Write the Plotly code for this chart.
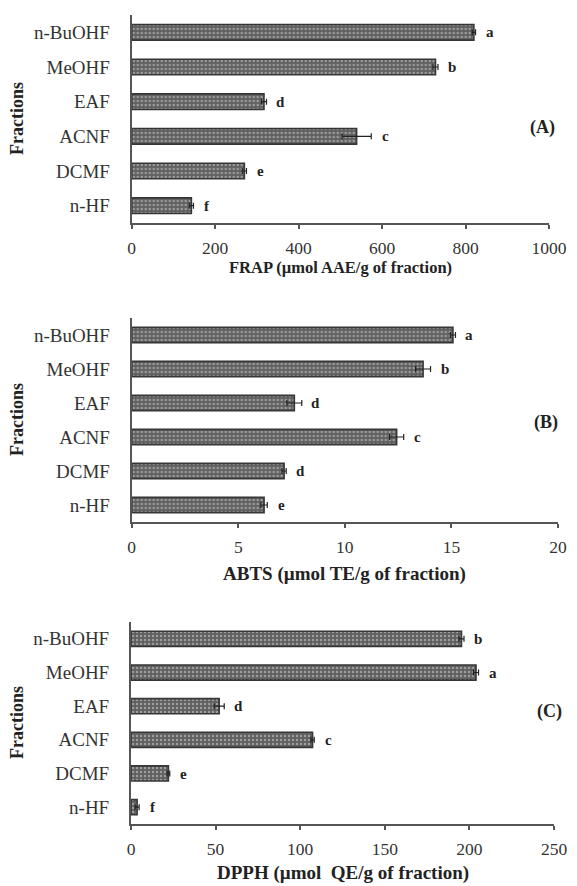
import plotly.graph_objects as go

categories = ["n-BuOHF", "MeOHF", "EAF", "ACNF", "DCMF", "n-HF"]

frap_values = [820, 728, 317, 539, 270, 143]
frap_errors = [4, 6, 6, 35, 5, 5]
frap_letters = ["a", "b", "d", "c", "e", "f"]

abts_values = [15.07, 13.67, 7.63, 12.43, 7.15, 6.21]
abts_errors = [0.12, 0.35, 0.35, 0.33, 0.1, 0.15]
abts_letters = ["a", "b", "d", "c", "d", "e"]

dpph_values = [195.3, 203.9, 52.1, 107.3, 22.1, 3.6]
dpph_errors = [1.5, 1.5, 3.0, 1.0, 0.8, 1.2]
dpph_letters = ["b", "a", "d", "c", "e", "f"]

panels = [
    dict(values=frap_values, errors=frap_errors, letters=frap_letters,
         xmax=1000, dtick=200, title="FRAP (µmol AAE/g of fraction)", tag="(A)"),
    dict(values=abts_values, errors=abts_errors, letters=abts_letters,
         xmax=20, dtick=5, title="ABTS (µmol TE/g of fraction)", tag="(B)"),
    dict(values=dpph_values, errors=dpph_errors, letters=dpph_letters,
         xmax=250, dtick=50, title="DPPH (µmol\u00a0 QE/g of fraction)", tag="(C)"),
]

# the page body has an 8px margin, so the figure is drawn 8px in from the window edge
OFF = 8
W, H = 577 - OFF, 886 - OFF
# window-pixel layout (left, right, top, bottom) of each plot area
boxes = [(131.7, 549.0, 15, 223), (131.7, 558.0, 318, 522), (131.0, 554.0, 622, 824)]
title_y = [268, 574, 873]
title_size = [16.5, 19, 19]
tag_pos = [(542, 127), (546, 422), (549, 711)]


def px(xw):
    return (xw - OFF) / W


def py(yw):
    return 1 - (yw - OFF) / H


SERIF = "Liberation Serif, Times New Roman, serif"
TXT = "#222222"

fig = go.Figure()
annotations = []
for i, p in enumerate(panels):
    n = "" if i == 0 else str(i + 1)
    xa, ya = "x" + n, "y" + n
    l, r, t, b = boxes[i]
    fig.add_trace(go.Bar(
        x=p["values"], y=categories, orientation="h", xaxis=xa, yaxis=ya,
        width=0.45,
        marker=dict(color="#626262", line=dict(color="#363636", width=1.6),
                    pattern=dict(shape=".", fgcolor="#9c9c9c", bgcolor="#606060",
                                 size=4, solidity=0.3, fillmode="replace")),
        error_x=dict(type="data", array=p["errors"], visible=True,
                     color="#222222", thickness=1.2, width=3),
        showlegend=False, hoverinfo="x+y",
    ))
    fig.layout["xaxis" + n] = dict(
        domain=[px(l), px(r)], anchor=ya, range=[0, p["xmax"]], dtick=p["dtick"],
        showline=True, linecolor="#555555", linewidth=2, ticks="outside",
        ticklen=4, tickwidth=1.5, tickcolor="#555555", showgrid=False, zeroline=False,
        tickfont=dict(family=SERIF, size=17.5, color="#333333"), ticklabelstandoff=4,
        ticklabeloverflow="allow", fixedrange=True, automargin=False,
    )
    fig.layout["yaxis" + n] = dict(
        domain=[py(b), py(t)], anchor=xa, autorange="reversed",
        showline=True, linecolor="#555555", linewidth=2, ticks="",
        showgrid=False, zeroline=False,
        tickfont=dict(family=SERIF, size=19, color="#333333"), ticklabelstandoff=16,
        fixedrange=True, automargin=False,
    )
    for cat, v, e, let in zip(categories, p["values"], p["errors"], p["letters"]):
        annotations.append(dict(
            x=v + e, y=cat, xref=xa, yref=ya, text="<b>%s</b>" % let,
            showarrow=False, xanchor="center", xshift=14,
            font=dict(family=SERIF, size=15, color=TXT)))
    annotations.append(dict(
        x=px((l + r) / 2), y=py(title_y[i]), xref="paper", yref="paper",
        text="<b>%s</b>" % p["title"], showarrow=False, xanchor="center", yanchor="middle",
        font=dict(family=SERIF, size=title_size[i], color=TXT)))
    annotations.append(dict(
        x=px(17), y=py((t + b) / 2), xref="paper", yref="paper",
        text="<b>Fractions</b>", textangle=-90, showarrow=False,
        xanchor="center", yanchor="middle",
        font=dict(family=SERIF, size=18, color=TXT)))
    tx, ty = tag_pos[i]
    annotations.append(dict(
        x=px(tx), y=py(ty), xref="paper", yref="paper",
        text="<b>%s</b>" % p["tag"], showarrow=False, xanchor="center", yanchor="middle",
        font=dict(family=SERIF, size=18, color=TXT)))

fig.update_layout(
    width=W, height=H, margin=dict(l=0, r=0, t=0, b=0, autoexpand=False),
    paper_bgcolor="white", plot_bgcolor="white",
    annotations=annotations, bargap=0.5,
)
fig.write_html("out.html")
